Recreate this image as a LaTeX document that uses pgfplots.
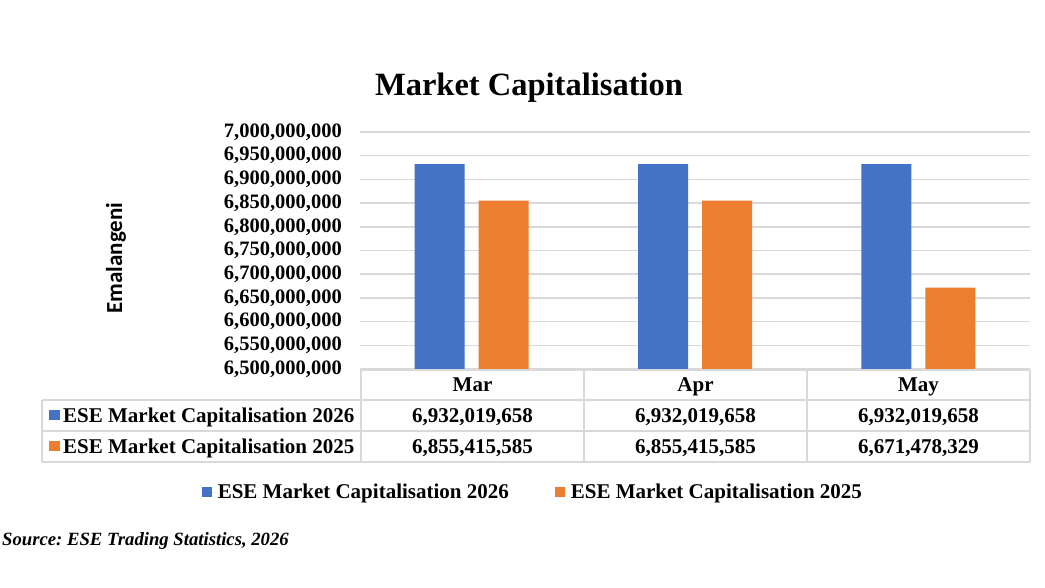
\documentclass[border=0pt]{standalone}
\usepackage{pgfplots}
\pgfplotsset{compat=1.18}
\usepackage{fontspec}
\setmainfont{Liberation Serif}
\newfontfamily\calibri{Carlito}
\definecolor{cblue}{HTML}{4472C4}
\definecolor{corange}{HTML}{ED7D31}
\definecolor{gridc}{HTML}{D9D9D9}
\frenchspacing
\begin{document}
\begin{tikzpicture}[x=1pt,y=1pt]
\useasboundingbox (0,0) rectangle (1045,587);
\begin{axis}[
  at={(360pt,218pt)}, anchor=south west,
  scale only axis, width=670pt, height=237pt,
  xmin=-0.5, xmax=2.5, ymin=6.5e9, ymax=7e9,
  xtick=\empty,
  ytick={6.5e9,6.55e9,6.6e9,6.65e9,6.7e9,6.75e9,6.8e9,6.85e9,6.9e9,6.95e9,7e9},
  yticklabels={{6,500,000,000},{6,550,000,000},{6,600,000,000},{6,650,000,000},{6,700,000,000},{6,750,000,000},{6,800,000,000},{6,850,000,000},{6,900,000,000},{6,950,000,000},{7,000,000,000}},
  scaled y ticks=false,
  yticklabel style={font=\fontsize{20.5}{24}\selectfont\bfseries, inner sep=0pt, xshift=-18pt},
  ymajorgrids, major grid style={gridc, line width=1.5pt},
  axis line style={draw=none}, tick style={draw=none},
  ybar=14pt, bar width=50pt,
  legend columns=2,
  legend style={at={(0.258,-0.519)}, anchor=center, draw=none, fill=none,
    font=\fontsize{21}{25}\selectfont\bfseries,
    /tikz/every even column/.append style={column sep=44pt}},
  legend image code/.code={\fill[#1] (0pt,-5pt) rectangle (10pt,5pt); \path (0pt,0pt) -- (14pt,0pt);},
]
\addplot[fill=cblue, draw=none] coordinates {(0,6932019658) (1,6932019658) (2,6932019658)};
\addplot[fill=corange, draw=none] coordinates {(0,6855415585) (1,6855415585) (2,6671478329)};
\legend{ESE Market Capitalisation 2026, ESE Market Capitalisation 2025}
\end{axis}
% data table
\draw[gridc, line width=1.5pt]
  (361,217) -- (1030,217) (42,187) -- (1030,187) (42,156) -- (1030,156) (42,125) -- (1030,125)
  (42,187) -- (42,125) (361,217) -- (361,125) (584,217) -- (584,125) (807,217) -- (807,125) (1030,217) -- (1030,125);
\begin{scope}[every node/.style={inner sep=0pt, font=\fontsize{21}{25}\selectfont\bfseries}]
\node[anchor=base] at (472.5,195) {Mar};
\node[anchor=base] at (695.5,195) {Apr};
\node[anchor=base] at (918.5,195) {May};
\node[anchor=base west] at (49,164.5) {\textcolor{cblue}{\raisebox{2pt}{\rule{10.5pt}{10.5pt}}}\hspace{3.5pt}ESE Market Capitalisation 2026};
\node[anchor=base west] at (49,133.5) {\textcolor{corange}{\raisebox{2pt}{\rule{10.5pt}{10.5pt}}}\hspace{3.5pt}ESE Market Capitalisation 2025};
\node[anchor=base] at (472.5,164.5) {6,932,019,658};
\node[anchor=base] at (695.5,164.5) {6,932,019,658};
\node[anchor=base] at (918.5,164.5) {6,932,019,658};
\node[anchor=base] at (472.5,133.5) {6,855,415,585};
\node[anchor=base] at (695.5,133.5) {6,855,415,585};
\node[anchor=base] at (918.5,133.5) {6,671,478,329};
\end{scope}
\node[anchor=base, inner sep=0pt, font=\fontsize{32.5}{38}\selectfont\bfseries] at (529,491.3) {Market Capitalisation};
\node[rotate=90, inner sep=0pt, font=\calibri\fontsize{23}{27}\selectfont\bfseries] at (116,329) {Emalangeni};
\node[anchor=base west, inner sep=0pt, font=\fontsize{18.7}{22}\selectfont\bfseries\itshape] at (2,41.5) {Source: ESE Trading Statistics, 2026};
\end{tikzpicture}
\end{document}
